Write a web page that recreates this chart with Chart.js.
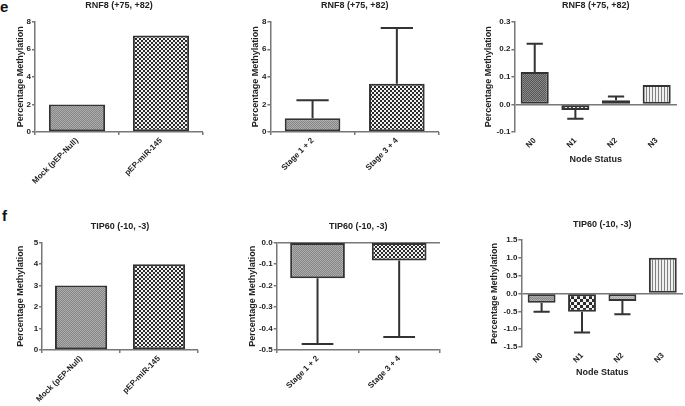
<!DOCTYPE html>
<html lang="en">
<head>
<meta charset="UTF-8">
<title>RNF8 / TIP60 methylation</title>
<script src="https://cdn.jsdelivr.net/npm/chart.js"></script>
<style>
  body { margin: 0; background: #fff; }
  #fig { position: relative; width: 685px; height: 406px; overflow: hidden; font-family: "Liberation Sans", Arial, sans-serif; }
  #fig canvas { position: absolute; }
  .tag { position: absolute; font-weight: bold; font-size: 15px; color: #111; }
</style>
</head>
<body>
<div id="fig">
  <div class="tag" style="left:0px;top:-2px;">e</div>
  <div class="tag" style="left:2px;top:207px;">f</div>
  <canvas id="p1"></canvas>
  <canvas id="p2"></canvas>
  <canvas id="p3"></canvas>
  <canvas id="p4"></canvas>
  <canvas id="p5"></canvas>
  <canvas id="p6"></canvas>
</div>
<script>
// categories
const treatLabels = ['Mock (pEP-Null)', 'pEP-miR-145'];
const stageLabels = ['Stage 1 + 2', 'Stage 3 + 4'];
const nodeLabels = ['N0', 'N1', 'N2', 'N3'];

// RNF8 (+75, +82)
const rnf8Treat = [2, 7];
const rnf8Stage = [1, 3.5];
const rnf8StageErr = [2.3, 7.55];          // end of error bar
const rnf8Node = [0.118, -0.02, 0.015, 0.07];
const rnf8NodeErr = [0.22, -0.052, 0.029, null];

// TIP60 (-10, -3)
const tip60Treat = [3, 4];
const tip60Stage = [-0.167, -0.085];
const tip60StageErr = [-0.472, -0.44];
const tip60Node = [-0.26, -0.51, -0.21, 1.0];
const tip60NodeErr = [-0.51, -1.09, -0.58, null];

// y tick labels
const rnf8TreatTicks = [0, 2, 4, 6, 8];
const rnf8StageTicks = [0, 2, 4, 6, 8];
const rnf8NodeTicks = [-0.1, 0.0, 0.1, 0.2, 0.3];
const tip60TreatTicks = [0, 1, 2, 3, 4, 5];
const tip60StageTicks = [-0.5, -0.4, -0.3, -0.2, -0.1, 0.0];
const tip60NodeTicks = [-1.5, -1.0, -0.5, 0.0, 0.5, 1.0, 1.5];

const FONT = '"Liberation Sans", Arial, sans-serif';

function pattern(w, h, draw) {
  const c = document.createElement('canvas');
  c.width = w; c.height = h;
  const g = c.getContext('2d');
  draw(g);
  return g.createPattern(c, 'repeat');
}
function fine(a, b) {
  return pattern(2, 2, g => {
    g.fillStyle = b; g.fillRect(0, 0, 2, 2);
    g.fillStyle = a; g.fillRect(0, 0, 1, 1); g.fillRect(1, 1, 1, 1);
  });
}
function checker(n) {
  return pattern(n * 2, n * 2, g => {
    g.fillStyle = '#f2f2f2'; g.fillRect(0, 0, n * 2, n * 2);
    g.fillStyle = '#2a2a2a'; g.fillRect(0, 0, n, n); g.fillRect(n, n, n, n);
  });
}
const grayFill = fine('#868686', '#adadad');
const darkFill = fine('#555555', '#8a8a8a');
const lightFill = fine('#a8a8a8', '#c2c2c2');
const checkFill = checker(2);
const bigCheck = checker(3);
const stripeFill = pattern(3, 1, g => {
  g.fillStyle = '#f0f0f0'; g.fillRect(0, 0, 3, 1);
  g.fillStyle = '#808080'; g.fillRect(0, 0, 1, 1);
});

// error bars + panel title
const extras = {
  id: 'extras',
  afterDatasetsDraw(chart) {
    const o = chart.options.plugins.extras;
    const ctx = chart.ctx;
    const y = chart.scales.y;
    const bars = chart.getDatasetMeta(0).data;
    ctx.save();
    ctx.strokeStyle = '#333';
    ctx.lineWidth = 2;
    (o.tips || []).forEach((t, i) => {
      if (t === null) return;
      const b = bars[i];
      const ty = y.getPixelForValue(t);
      const cap = b.width * 0.29;
      ctx.beginPath();
      ctx.moveTo(b.x, b.y);
      ctx.lineTo(b.x, ty);
      ctx.moveTo(b.x - cap, ty);
      ctx.lineTo(b.x + cap, ty);
      ctx.stroke();
    });
    const a = chart.chartArea;
    ctx.fillStyle = '#222';
    ctx.font = 'bold 9px ' + FONT;
    ctx.textAlign = 'center';
    ctx.textBaseline = 'middle';
    ctx.fillText(o.title, (a.left + a.right) / 2, o.titleY);
    ctx.restore();
  }
};

function panel(id, p) {
  const cv = document.getElementById(id);
  const w = p.R + p.padRight - p.left;
  const h = p.B + p.xAxisH - p.top;
  cv.width = w; cv.height = h;
  cv.style.left = p.left + 'px';
  cv.style.top = p.top + 'px';
  const ticks = p.ticks;
  new Chart(cv, {
    type: 'bar',
    data: {
      labels: p.labels,
      datasets: [{
        data: p.values,
        backgroundColor: p.fills,
        borderColor: '#333',
        borderWidth: 2,
        borderSkipped: false,
        categoryPercentage: 1,
        barPercentage: p.barPct
      }]
    },
    options: {
      responsive: false,
      animation: false,
      layout: { padding: { left: 0, top: p.T - p.top, right: p.padRight, bottom: 0 } },
      plugins: {
        legend: { display: false },
        tooltip: { enabled: false },
        extras: { tips: p.tips, title: p.title, titleY: p.titleY - p.top }
      },
      scales: {
        x: {
          grid: { display: true, drawOnChartArea: false, tickLength: 3, color: p.xTicks ? '#777' : 'rgba(0,0,0,0)', lineWidth: 1.5 },
          border: { display: !!p.xBorder, color: '#777', width: 1.5 },
          ticks: { minRotation: 45, maxRotation: 45, padding: 1, color: '#222', font: { family: FONT, size: 8, weight: 'bold' } },
          title: { display: !!p.xTitle, text: p.xTitle || '', color: '#222', padding: 0, font: { family: FONT, size: 9, weight: 'bold' } },
          afterFit: s => { s.height = p.xAxisH; }
        },
        y: {
          min: ticks[0],
          max: ticks[ticks.length - 1],
          grid: {
            drawOnChartArea: true,
            color: c => (c.tick && Math.abs(c.tick.value) < 1e-9) ? '#777' : 'rgba(0,0,0,0)',
            lineWidth: 1.5,
            tickColor: '#777',
            tickLength: 3
          },
          border: { display: true, color: '#777', width: 1.5 },
          ticks: {
            stepSize: ticks[1] - ticks[0],
            padding: 1,
            color: '#222',
            font: { family: FONT, size: 8, weight: 'bold' },
            callback: v => Number(v).toFixed(p.dec)
          },
          title: { display: true, text: 'Percentage Methylation', color: '#222', padding: { top: 2, bottom: 0 }, font: { family: FONT, size: 9, weight: 'bold' } },
          afterFit: s => { s.width = p.L - p.left; }
        }
      }
    },
    plugins: [extras]
  });
}

panel('p1', { left: 13, top: 0, L: 35, T: 21.7, R: 203, B: 132.7, padRight: 10, xAxisH: 60, titleY: 6,
  labels: treatLabels, values: rnf8Treat, tips: [], fills: [grayFill, checkFill], ticks: rnf8TreatTicks, dec: 0,
  barPct: 0.67, title: 'RNF8 (+75, +82)', xTicks: true });
panel('p2', { left: 247.6, top: 0, L: 270, T: 21.7, R: 439, B: 132.7, padRight: 8, xAxisH: 60, titleY: 6,
  labels: stageLabels, values: rnf8Stage, tips: rnf8StageErr, fills: [grayFill, checkFill], ticks: rnf8StageTicks, dec: 0,
  barPct: 0.66, title: 'RNF8 (+75, +82)', xTicks: true });
panel('p3', { left: 480.6, top: 0, L: 514, T: 21.7, R: 677, B: 132.7, padRight: 6, xAxisH: 33, titleY: 6,
  labels: nodeLabels, values: rnf8Node, tips: rnf8NodeErr, fills: [darkFill, checkFill, lightFill, stripeFill], ticks: rnf8NodeTicks, dec: 1,
  barPct: 0.69, title: 'RNF8 (+75, +82)', xTitle: 'Node Status' });
panel('p4', { left: 12.6, top: 212, L: 41.7, T: 242.7, R: 198, B: 350.7, padRight: 10, xAxisH: 55, titleY: 226.7,
  labels: treatLabels, values: tip60Treat, tips: [], fills: [grayFill, checkFill], ticks: tip60TreatTicks, dec: 0,
  barPct: 0.67, title: 'TIP60 (-10, -3)', xTicks: true });
panel('p5', { left: 245.3, top: 212, L: 277, T: 242.3, R: 441, B: 350, padRight: 8, xAxisH: 55, titleY: 226.7,
  labels: stageLabels, values: tip60Stage, tips: tip60StageErr, fills: [grayFill, checkFill], ticks: tip60StageTicks, dec: 1,
  barPct: 0.67, title: 'TIP60 (-10, -3)', xTicks: true, xBorder: true });
panel('p6', { left: 486.6, top: 212, L: 521, T: 240, R: 683, B: 347.7, padRight: 2, xAxisH: 31, titleY: 225,
  labels: nodeLabels, values: tip60Node, tips: tip60NodeErr, fills: [grayFill, bigCheck, lightFill, stripeFill], ticks: tip60NodeTicks, dec: 1,
  barPct: 0.69, title: 'TIP60 (-10, -3)', xTitle: 'Node Status' });
</script>
</body>
</html>
